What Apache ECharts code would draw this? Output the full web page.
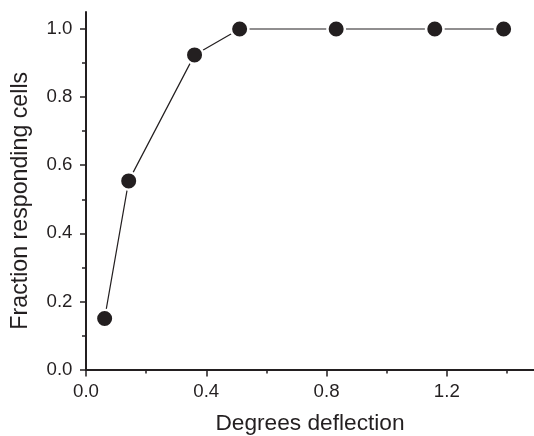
<!DOCTYPE html>
<html>
<head>
<meta charset="utf-8">
<script src="https://cdn.jsdelivr.net/npm/echarts@6/dist/echarts.min.js"></script>
<style>
  html, body { margin: 0; padding: 0; background: #fff; }
  #chart { width: 534px; height: 436px; }
</style>
</head>
<body>
<div id="chart"></div>
<script>
// Stimulus amplitude (degrees) and fraction of cells that responded
const deflection = [0.062, 0.142, 0.361, 0.511, 0.832, 1.160, 1.389];
const fraction   = [0.150, 0.554, 0.924, 1.000, 1.000, 1.000, 1.000];

// Tick positions
const xMajorTicks = [0, 0.4, 0.8, 1.2];
const xMinorTicks = [0.2, 0.6, 1.0, 1.4];
const yMajorTicks = [0, 0.2, 0.4, 0.6, 0.8, 1.0];
const yMinorTicks = [0.1, 0.3, 0.5, 0.7, 0.9];

const INK = '#231f20';
const FONT = "'Liberation Sans', Arial, Helvetica, sans-serif";
const X_MAX = 1.49;
const Y_MAX = 1.05;

const chart = echarts.init(document.getElementById('chart'), null, { renderer: 'canvas' });

const fmt = v => v.toFixed(1);

chart.setOption({
  animation: false,
  backgroundColor: '#fff',
  grid: { left: 86, right: 0, top: 12, bottom: 66.5, containLabel: false, outerBoundsMode: 'none' },
  xAxis: [
    {
      type: 'value', min: 0, max: X_MAX, interval: 0.4, position: 'bottom',
      axisLine: { show: true, onZero: false, lineStyle: { color: INK, width: 2 } },
      axisTick: { show: true, customValues: xMajorTicks, length: 7, lineStyle: { color: INK, width: 1.5 } },
      axisLabel: { show: true, customValues: xMajorTicks, formatter: fmt, margin: 12.5,
                   color: INK, fontSize: 18.7, fontFamily: FONT },
      splitLine: { show: false },
      name: 'Degrees deflection', nameLocation: 'middle', nameGap: 43,
      nameTextStyle: { color: INK, fontSize: 22.7, fontFamily: FONT }
    },
    {
      type: 'value', min: 0, max: X_MAX, interval: 0.4, position: 'bottom',
      axisLine: { show: false, onZero: false },
      axisTick: { show: true, customValues: xMinorTicks, length: 4, lineStyle: { color: INK, width: 1.5 } },
      axisLabel: { show: false },
      splitLine: { show: false }
    }
  ],
  yAxis: [
    {
      type: 'value', min: 0, max: Y_MAX, interval: 0.2, position: 'left',
      axisLine: { show: true, onZero: false, lineStyle: { color: INK, width: 2 } },
      axisTick: { show: true, customValues: yMajorTicks, length: 6, lineStyle: { color: INK, width: 1.5 } },
      axisLabel: { show: true, customValues: yMajorTicks, formatter: fmt, margin: 13.5,
                   color: INK, fontSize: 18.7, fontFamily: FONT },
      splitLine: { show: false },
      name: 'Fraction responding cells', nameLocation: 'middle', nameGap: 54,
      nameTextStyle: { color: INK, fontSize: 23.2, fontFamily: FONT, padding: [0, 20, 0, 0] }
    },
    {
      type: 'value', min: 0, max: Y_MAX, interval: 0.2, position: 'left',
      axisLine: { show: false, onZero: false },
      axisTick: { show: true, customValues: yMinorTicks, length: 4, lineStyle: { color: INK, width: 1.5 } },
      axisLabel: { show: false },
      splitLine: { show: false }
    }
  ],
  series: [
    {
      type: 'line',
      xAxisIndex: 0, yAxisIndex: 0,
      data: deflection.map((x, i) => [x, fraction[i]]),
      symbol: 'circle', symbolSize: 17.5,
      itemStyle: { color: INK, borderColor: '#fff', borderWidth: 2.5 },
      lineStyle: { color: INK, width: 1.2 },
      clip: false
    }
  ]
});
</script>
</body>
</html>
